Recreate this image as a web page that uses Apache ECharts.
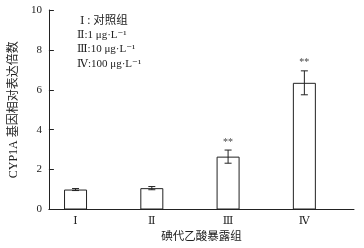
<!DOCTYPE html>
<html>
<head>
<meta charset="utf-8">
<script src="https://cdn.jsdelivr.net/npm/echarts@6/dist/echarts.min.js"></script>
<style>
  html, body { margin: 0; padding: 0; background: #fff; }
  #chart { width: 364px; height: 248px; }
</style>
</head>
<body>
<div id="chart"></div>
<script>
// 数据
const groups = ['Ⅰ', 'Ⅱ', 'Ⅲ', 'Ⅳ']
const means = [1.0, 1.07, 2.65, 6.35]
const errors = [0.05, 0.08, 0.33, 0.6]
const marks = ['', '', '**', '**']
const legendLines = [' Ⅰ : 对照组', 'Ⅱ:1 μg·L⁻¹', 'Ⅲ:10 μg·L⁻¹', 'Ⅳ:100 μg·L⁻¹']
const yTicks = [0, 2, 4, 6, 8, 10]

const FONT = '"Liberation Serif", "DejaVu Serif", "Noto Sans CJK SC", serif'
const BAR_W = 23

const chart = echarts.init(document.getElementById('chart'), null, { renderer: 'canvas' })

const errData = means.map((v, i) => [i, v, errors[i]])

chart.setOption({
  animation: false,
  backgroundColor: '#fff',
  grid: { left: 42, top: 10, right: 10, bottom: 38 },
  xAxis: {
    type: 'category',
    data: groups,
    name: '碘代乙酸暴露组',
    nameLocation: 'middle',
    nameGap: 22,
    nameTextStyle: { fontFamily: FONT, fontSize: 11.5, color: '#222' },
    axisLine: { lineStyle: { color: '#222', width: 1 } },
    axisTick: { inside: true, length: 5, lineStyle: { color: '#222' } },
    axisLabel: {
      fontFamily: FONT, fontSize: 11, color: '#222', margin: 6,
      padding: [0, BAR_W, 0, 0]
    }
  },
  yAxis: {
    type: 'value',
    min: yTicks[0],
    max: yTicks[yTicks.length - 1],
    interval: 2,
    name: 'CYP1A 基因相对表达倍数',
    nameLocation: 'middle',
    nameGap: 27,
    nameTextStyle: { fontFamily: FONT, fontSize: 12, color: '#222' },
    axisLine: { show: true, lineStyle: { color: '#222', width: 1 } },
    axisTick: { show: true, inside: true, length: 5, lineStyle: { color: '#222' } },
    axisLabel: { fontFamily: FONT, fontSize: 11, color: '#222', margin: 7 },
    splitLine: { show: false }
  },
  series: [
    {
      type: 'bar',
      data: means,
      barWidth: BAR_W,
      barGap: '0%',
      itemStyle: { color: '#fff', borderColor: '#222', borderWidth: 1 },
      z: 2
    },
    {
      // 占位，使柱子偏左
      type: 'bar',
      data: means.map(() => 0),
      barWidth: BAR_W,
      itemStyle: { color: 'transparent' },
      silent: true
    },
    {
      type: 'custom',
      data: errData,
      z: 3,
      renderItem(params, api) {
        const i = api.value(0)
        const v = api.value(1)
        const e = api.value(2)
        const mark = marks[params.dataIndex]
        const top = api.coord([i, v + e])
        const bot = api.coord([i, v - e])
        const x = top[0] - BAR_W / 2
        const cap = 3.5
        const style = { stroke: '#222', lineWidth: 1 }
        const children = [
          { type: 'line', shape: { x1: x, y1: top[1], x2: x, y2: bot[1] }, style },
          { type: 'line', shape: { x1: x - cap, y1: top[1], x2: x + cap, y2: top[1] }, style },
          { type: 'line', shape: { x1: x - cap, y1: bot[1], x2: x + cap, y2: bot[1] }, style }
        ]
        if (mark) {
          children.push({
            type: 'text',
            style: {
              x: x, y: top[1] - 3, text: mark,
              align: 'center', verticalAlign: 'bottom',
              font: '10px ' + FONT, fill: '#444'
            }
          })
        }
        return { type: 'group', children }
      }
    }
  ],
  graphic: legendLines.map((t, k) => ({
    type: 'text',
    left: 77,
    top: 15 + k * 14.5,
    style: { text: t, font: (k === 0 ? '11.5px ' : '11px ') + FONT, fill: '#222' }
  }))
})
</script>
</body>
</html>
